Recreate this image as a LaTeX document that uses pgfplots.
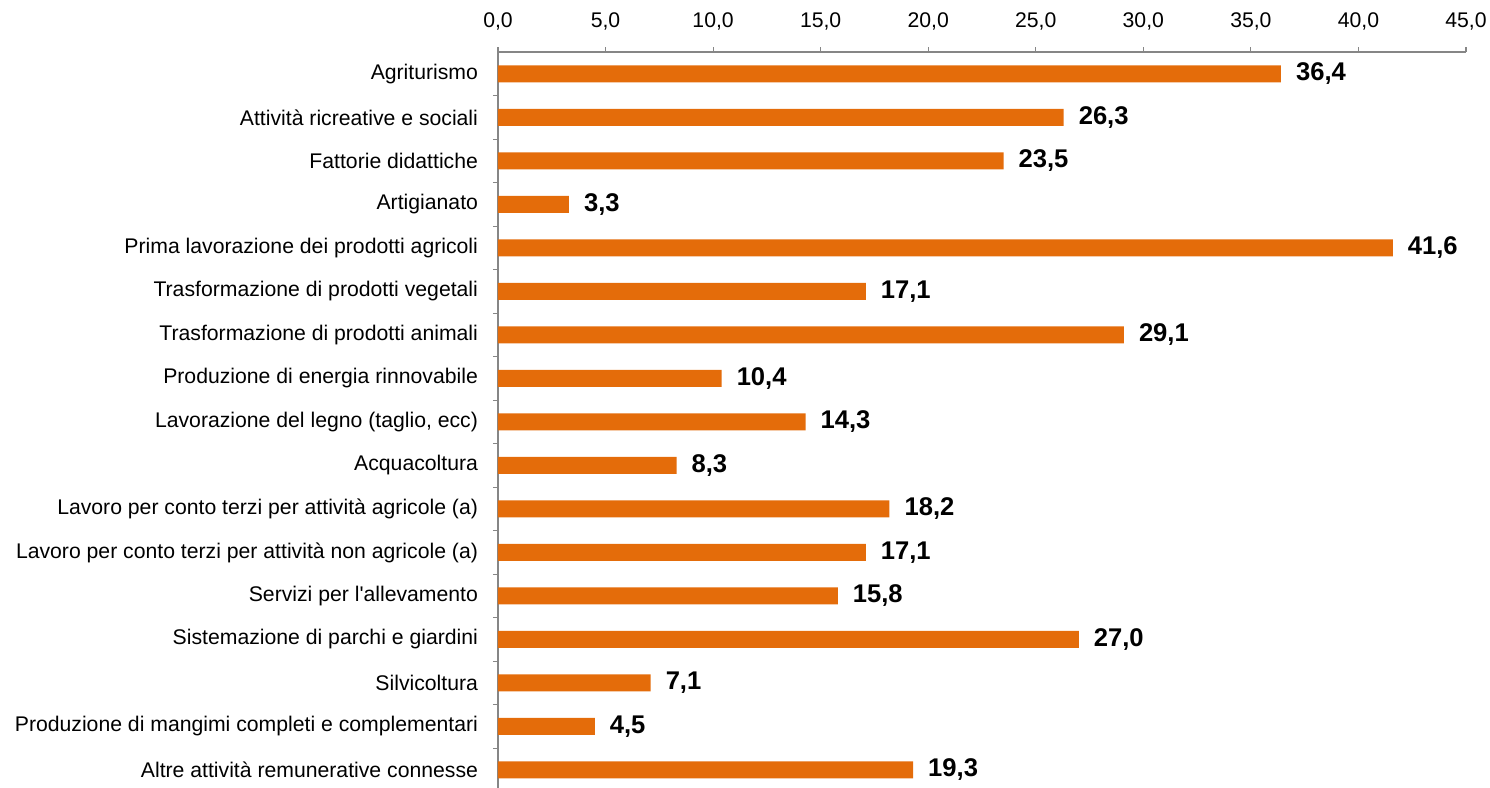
\documentclass[border=0pt]{standalone}
\usepackage{pgfplots}
\pgfplotsset{compat=1.18}
\usepackage{fontspec}
\setmainfont{Liberation Sans}
\definecolor{barorange}{HTML}{E46C0A}
\definecolor{axisgray}{HTML}{868686}

\begin{document}
\begin{tikzpicture}
  \begin{axis}[
      scale only axis,
      width=484bp, height=369.8bp,
      xbar, bar width=8.5bp,
      xmin=0, xmax=45,
      ymin=-0.5, ymax=16.5,
      axis x line=top, axis y line=left,
      axis line style={axisgray, -, line width=0.6bp},
      tick align=outside,
      major tick length=2.5bp, minor tick length=2.5bp,
      tick style={axisgray, line width=0.6bp},
      major y tick style={draw=none},
      xtick={0,5,...,45},
      xticklabel={\pgfmathprintnumber[fixed,fixed zerofill,precision=1,use comma,assume math mode=true]{\tick}},
      xticklabel style={yshift=5bp},
      ytick={0,...,16},
      minor ytick={0.5,1.5,...,15.5},
      yticklabels={
        Altre attività remunerative connesse,
        Produzione di mangimi completi e complementari,
        Silvicoltura,
        Sistemazione di parchi e giardini,
        Servizi per l\textquotesingle allevamento,
        Lavoro per conto terzi per attività non agricole (a),
        Lavoro per conto terzi per attività agricole (a),
        Acquacoltura,
        {Lavorazione del legno (taglio, ecc)},
        Produzione di energia rinnovabile,
        Trasformazione di prodotti animali,
        Trasformazione di prodotti vegetali,
        Prima lavorazione dei prodotti agricoli,
        Artigianato,
        Fattorie didattiche,
        Attività ricreative e sociali,
        Agriturismo},
      yticklabel style={xshift=-4bp},
      tick label style={font=\fontsize{10.6bp}{12bp}\selectfont, black},
      point meta=x,
      nodes near coords={\pgfmathprintnumber[fixed,fixed zerofill,precision=1,use comma,assume math mode=true]{\pgfplotspointmeta}},
      nodes near coords style={font=\bfseries\fontsize{12.8bp}{14bp}\selectfont, black, xshift=4bp},
    ]
    \addplot[fill=barorange, draw=none] coordinates {
      (36.4,16) (26.3,15) (23.5,14) (3.3,13) (41.6,12) (17.1,11)
      (29.1,10) (10.4,9) (14.3,8) (8.3,7) (18.2,6) (17.1,5)
      (15.8,4) (27.0,3) (7.1,2) (4.5,1) (19.3,0)
    };
  \end{axis}
  \pgfresetboundingbox
  \path[use as bounding box] (-249bp,1.85bp) rectangle (496bp,395.85bp);
\end{tikzpicture}
\end{document}
